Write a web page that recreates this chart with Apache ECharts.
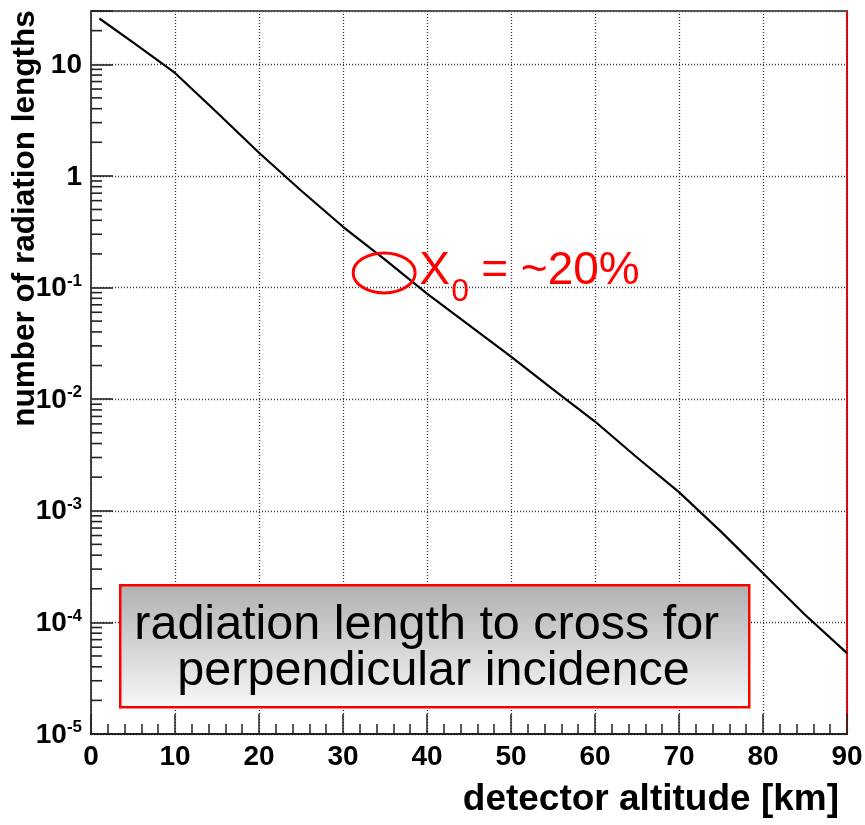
<!DOCTYPE html>
<html>
<head>
<meta charset="utf-8">
<title>Radiation lengths vs detector altitude</title>
<script src="https://cdn.jsdelivr.net/npm/echarts@6/dist/echarts.min.js"></script>
<style>
  html, body { margin: 0; padding: 0; background: #fff; }
  #chart { width: 865px; height: 825px; }
</style>
</head>
<body>
<div id="chart"></div>
<script>
// Detector altitude (km) and the atmosphere above it, in radiation lengths
const altitudeKm = [1, 5, 8.2, 10, 15, 20, 25, 30, 35, 40, 45, 50, 55, 60, 65, 70, 75, 80, 85, 90];
const radLengths = [25.7, 15.7, 10.5, 8.36, 3.7, 1.61, 0.74, 0.35, 0.178, 0.088, 0.046, 0.024, 0.0122, 0.0063, 0.0030, 0.00147, 0.00065, 0.000275, 0.000117, 0.000053];

// Axis ranges and ticks
const yDecades = [1e-5, 1e-4, 1e-3, 1e-2, 1e-1, 1, 10];
const yMinorTicks = [];
yDecades.forEach(function (d) {
  for (let k = 2; k <= 9; k++) {
    const v = k * d;
    if (v <= 30) yMinorTicks.push(+v.toPrecision(3));
  }
});

// Highlighted point and its note
const markerPoint = [34.9, 0.135];
const markerNote = ['X', '0', '= ~20%'];
const boxLines = ['radiation length to cross for ', 'perpendicular incidence'];

const FONT = '"Liberation Sans", Arial, Helvetica, sans-serif';
const RED = '#ff0000';
const GRID = { left: 91, right: 18, top: 11, bottom: 91 };

const points = altitudeKm.map(function (x, i) { return [x, radLengths[i]]; });

function decadeLabel(v) {
  const e = Math.round(Math.log10(v));
  if (Math.abs(Math.log10(v) - e) > 1e-6) return '';
  if (e === 0) return '{b|1}';
  if (e === 1) return '{b|10}';
  return '{b|10}{s|' + e + '}';
}

const noteBox = [{
  id: 'note-box',
  type: 'rect',
  left: 119, top: 584,
  shape: { width: 629, height: 122 },
  style: {
    fill: new echarts.graphic.LinearGradient(0, 0, 0, 1, [
      { offset: 0, color: '#b0b0b0' },
      { offset: 1, color: '#f8f8f8' }
    ]),
    stroke: RED, lineWidth: 2.5
  },
  z: 10
}, {
  id: 'note-text',
  type: 'text',
  x: 433.5, y: 649,
  style: {
    text: boxLines.join('\n'),
    font: '48.5px ' + FONT,
    fill: '#000',
    align: 'center', verticalAlign: 'middle',
    lineHeight: 46
  },
  z: 11
}];

const chart = echarts.init(document.getElementById('chart'), null, { renderer: 'canvas' });

chart.setOption({
  backgroundColor: '#ffffff',
  animation: false,
  grid: {
    left: GRID.left, right: GRID.right, top: GRID.top, bottom: GRID.bottom,
    containLabel: false, outerBoundsMode: 'none',
    show: true, borderColor: RED, borderWidth: 2, backgroundColor: 'transparent'
  },
  xAxis: [{
    type: 'value', min: 0, max: 90, interval: 10,
    axisLine: { show: true, onZero: false, lineStyle: { color: '#222', width: 2 } },
    axisTick: { show: true, inside: true, length: 20, lineStyle: { color: '#222', width: 1.5 } },
    minorTick: { show: true, splitNumber: 5, length: 10, lineStyle: { color: '#222', width: 1.5 } },
    splitLine: { show: true, lineStyle: { color: '#333', width: 1.3, type: [1, 2] } },
    axisLabel: {
      margin: 9, color: '#000', fontFamily: FONT, fontWeight: 'bold', fontSize: 28
    },
    name: 'detector altitude [km]',
    nameLocation: 'end', nameGap: -8, nameMoveOverlap: false,
    nameTextStyle: {
      fontFamily: FONT, fontWeight: 'bold', fontSize: 37, color: '#000',
      align: 'right', verticalAlign: 'top', padding: [47, 0, 0, 0]
    }
  }, {
    type: 'value', min: 0, max: 90, position: 'top',
    axisLine: { show: true, lineStyle: { color: '#555', width: 2 } },
    axisTick: { show: false }, axisLabel: { show: false }, splitLine: { show: false }
  }],
  yAxis: [{
    type: 'log', logBase: 10, min: 1e-5, max: 30, interval: 1,
    position: 'left',
    axisLine: { show: true, lineStyle: { color: '#444', width: 2 } },
    axisTick: { show: true, inside: true, length: 22, lineStyle: { color: '#222', width: 1.6 } },
    splitLine: { show: true, lineStyle: { color: '#333', width: 1.3, type: [1, 2] } },
    axisLabel: {
      margin: 9, color: '#000',
      formatter: decadeLabel,
      rich: {
        b: { fontFamily: FONT, fontWeight: 'bold', fontSize: 28, color: '#000', lineHeight: 30, verticalAlign: 'bottom' },
        s: { fontFamily: FONT, fontWeight: 'bold', fontSize: 17, color: '#000', lineHeight: 30, verticalAlign: 'top', padding: [0, 0, 12, 0] }
      }
    },
    name: 'number of radiation lengths',
    nameLocation: 'middle', nameGap: 50, nameRotate: 90, nameMoveOverlap: false,
    nameTextStyle: {
      fontFamily: FONT, fontWeight: 'bold', fontSize: 31.5, color: '#000',
      padding: [0, 0, 0, 308]
    }
  }],
  series: [{
    type: 'line',
    xAxisIndex: 0, yAxisIndex: 0,
    data: points,
    showSymbol: false,
    smooth: false,
    lineStyle: { color: '#000', width: 2.2 },
    z: 5
  }, {
    type: 'custom',
    xAxisIndex: 0, yAxisIndex: 0,
    data: [markerPoint],
    z: 6,
    renderItem: function (params, api) {
      const c = api.coord([api.value(0), api.value(1)]);
      return {
        type: 'group',
        children: [{
          type: 'ellipse',
          shape: { cx: c[0], cy: c[1], rx: 31, ry: 20 },
          style: { fill: 'none', stroke: RED, lineWidth: 3 }
        }, {
          type: 'text',
          x: c[0] + 35, y: c[1] + 21,
          style: { text: markerNote[0], fill: RED, font: '46px ' + FONT, verticalAlign: 'bottom', align: 'left' }
        }, {
          type: 'text',
          x: c[0] + 67, y: c[1] + 35,
          style: { text: markerNote[1], fill: RED, font: '32px ' + FONT, verticalAlign: 'bottom', align: 'left' }
        }, {
          type: 'text',
          x: c[0] + 97, y: c[1] + 21,
          style: { text: markerNote[2], fill: RED, font: '46px ' + FONT, verticalAlign: 'bottom', align: 'left' }
        }]
      };
    }
  }],
  graphic: noteBox
});

// Short ticks at 2..9 within each decade of the log axis, placed through the grid's scales
function gridPixel(x, y) {
  const p = chart.convertToPixel({ gridIndex: 0 }, [x, y]);
  return Array.isArray(p) ? p : [NaN, NaN];
}
const p10 = gridPixel(10, 1);
const p20 = gridPixel(20, 1);
let axisLeft = p10[0] - (p20[0] - p10[0]);
if (!isFinite(axisLeft)) axisLeft = GRID.left;

const tickMarks = [];
yMinorTicks.forEach(function (v, i) {
  const y = gridPixel(10, v)[1];
  if (!isFinite(y)) return;
  tickMarks.push({
    id: 'ytick-m' + i,
    type: 'line',
    shape: { x1: axisLeft, y1: y, x2: axisLeft + 11, y2: y },
    style: { stroke: '#222', lineWidth: 1.6 },
    z: 20
  });
});

chart.setOption({ graphic: noteBox.concat(tickMarks) });
</script>
</body>
</html>
